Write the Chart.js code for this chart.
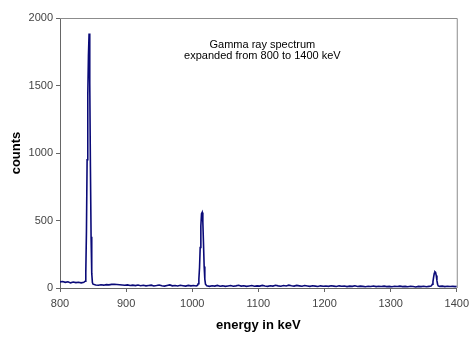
<!DOCTYPE html>
<html>
<head>
<meta charset="utf-8">
<script src="https://cdn.jsdelivr.net/npm/chart.js@4"></script>
<style>
  html, body { margin: 0; padding: 0; background: #fff; }
  #wrap { width: 474px; height: 342px; }
</style>
</head>
<body>
<div id="wrap"><canvas id="spectrum-chart"></canvas></div>
<script>
// spectrum data: energy (keV) and counts
let energies = [
  800, 804, 808, 812, 816, 820, 824, 828, 832, 836, 838,
  839, 840, 841, 842, 843, 844, 845, 846, 847, 848, 849, 850,
  854, 858, 862, 866, 870, 874, 878, 882, 886, 890, 894, 898,
  902, 906, 910, 914, 918, 922, 926, 930, 934, 938, 942, 946, 950,
  954, 958, 962, 966, 970, 974, 978, 982, 986, 990, 994, 998, 1002, 1006,
  1008, 1009, 1010, 1011, 1012, 1013, 1014, 1015, 1016, 1017, 1018, 1019, 1020, 1022,
  1026, 1030, 1034, 1038, 1042, 1046, 1050, 1054, 1058, 1062, 1066, 1070, 1074, 1078,
  1082, 1086, 1090, 1094, 1098, 1102, 1106, 1110, 1114, 1118, 1122, 1126, 1130, 1134,
  1138, 1142, 1146, 1150, 1154, 1158, 1162, 1166, 1170, 1174, 1178, 1182, 1186, 1190,
  1194, 1198, 1202, 1206, 1210, 1214, 1218, 1222, 1226, 1230, 1234, 1238, 1242, 1246,
  1250, 1254, 1258, 1262, 1266, 1270, 1274, 1278, 1282, 1286, 1290, 1294, 1298, 1302,
  1306, 1310, 1314, 1318, 1322, 1326, 1330, 1334, 1338, 1342, 1346, 1350, 1354, 1358, 1361,
  1362, 1363, 1364, 1365, 1366, 1367, 1368, 1369, 1370, 1371, 1372, 1374,
  1378, 1382, 1386, 1390, 1394, 1398, 1400
];
let counts = [
  45, 48, 42, 46, 38, 44, 40, 43, 38, 42, 50,
  110, 420, 950, 1420, 1720, 1885, 1520, 900, 380, 110, 40, 28,
  22, 20, 24, 21, 25, 23, 27, 28, 26, 24, 22, 20,
  23, 19, 21, 18, 22, 17, 20, 16, 19, 21, 15, 18, 22,
  17, 14, 19, 23, 16, 18, 15, 20, 17, 14, 19, 16, 18, 15,
  20, 32, 65, 150, 300, 460, 550, 560, 490, 330, 160, 65, 28, 16,
  12, 17, 14, 19, 13, 16, 12, 15, 18, 13, 16, 20, 14, 17,
  12, 15, 18, 13, 16, 14, 19, 15, 12, 17, 14, 20, 16, 13,
  18, 15, 21, 17, 14, 19, 16, 13, 18, 15, 12, 17, 14, 11,
  16, 13, 15, 12, 17, 14, 11, 16, 13, 15, 10, 14, 12, 16,
  11, 14, 12, 9, 13, 11, 15, 10, 13, 11, 14, 10, 12, 9,
  13, 11, 14, 10, 12, 9, 13, 11, 8, 12, 10, 13, 9, 12, 14,
  18, 28, 48, 80, 108, 120, 116, 92, 55, 28, 15, 12,
  14, 10, 13, 11, 12, 10, 12
];
let xTicks = [800, 900, 1000, 1100, 1200, 1300, 1400];
let yTicks = [0, 500, 1000, 1500, 2000];
let titleLines = ['Gamma ray spectrum', 'expanded from 800 to 1400 keV'];

Chart.defaults.font.family = "'Liberation Sans', Arial, sans-serif";

// frame on top/right and the title inside the plot
const framePlugin = {
  id: 'frame',
  beforeDatasetsDraw(chart) {
    const a = chart.chartArea, ctx = chart.ctx;
    ctx.save();
    ctx.strokeStyle = '#8c8c8c';
    ctx.lineWidth = 1;
    ctx.beginPath();
    ctx.moveTo(a.left, a.top + 0.5);
    ctx.lineTo(a.right + 0.5, a.top + 0.5);
    ctx.lineTo(a.right + 0.5, a.bottom);
    ctx.stroke();
    ctx.restore();
  },
  afterDraw(chart) {
    const a = chart.chartArea, ctx = chart.ctx;
    ctx.save();
    ctx.fillStyle = '#000';
    ctx.font = "11px 'Liberation Sans', Arial, sans-serif";
    ctx.textAlign = 'center';
    ctx.textBaseline = 'middle';
    const cx = a.left + (a.right - a.left) * 0.51;
    titleLines.forEach((t, i) => ctx.fillText(t, cx, a.top + 27 + i * 11));
    ctx.restore();
  }
};

const spectrumCanvas = document.getElementById('spectrum-chart');
let spectrumChart = new Chart(spectrumCanvas, {
  type: 'line',
  data: {
    datasets: [{
      data: energies.map((e, i) => ({x: e, y: counts[i]})),
      borderColor: '#0a0a78',
      borderWidth: 1.6,
      pointRadius: 0,
      tension: 0,
      fill: false
    }]
  },
  options: {
    responsive: true,
    maintainAspectRatio: false,
    animation: false,
    layout: { padding: {top: 18, right: 17, left: 0, bottom: 0} },
    plugins: { legend: {display: false}, tooltip: {enabled: false} },
    scales: {
      x: {
        type: 'linear',
        min: 800, max: 1400,
        afterFit: s => { s.height = 54; },
        afterBuildTicks: s => { s.ticks = xTicks.map(v => ({value: v})); },
        grid: { drawOnChartArea: false, drawTicks: true, tickLength: 4, color: '#666' },
        border: { display: true, color: '#666' },
        ticks: { color: '#444', font: {size: 11}, padding: 5, maxRotation: 0,
                 callback: v => String(v) },
        title: { display: true, text: 'energy in keV', color: '#000',
                 font: {size: 13, weight: 'bold'}, padding: {top: 0, bottom: 9} }
      },
      y: {
        min: 0, max: 2000,
        afterFit: s => { s.width = 60; },
        afterBuildTicks: s => { s.ticks = yTicks.map(v => ({value: v})); },
        grid: { drawOnChartArea: false, drawTicks: true, tickLength: 4, color: '#666' },
        border: { display: true, color: '#666' },
        ticks: { color: '#444', font: {size: 11}, padding: 3,
                 callback: v => String(v) },
        title: { display: true, text: 'counts', color: '#000',
                 font: {size: 13, weight: 'bold'}, padding: {top: 9, bottom: 0} }
      }
    }
  },
  plugins: [framePlugin]
});
</script>
</body>
</html>
